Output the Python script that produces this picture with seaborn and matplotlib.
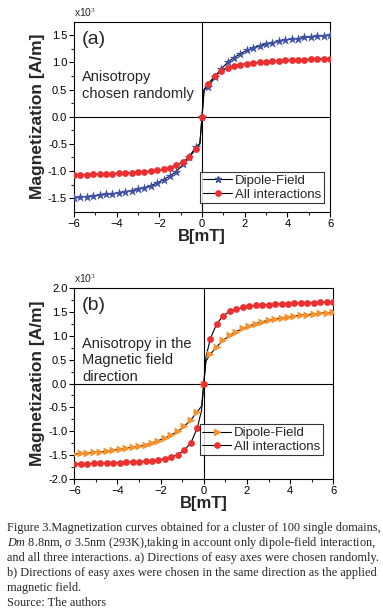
import numpy as np
import pandas as pd
import seaborn as sb
import matplotlib.pyplot as plt
from matplotlib.lines import Line2D

# field values (mT), one marker every 0.3 mT
field = [-6.0, -5.7, -5.4, -5.1, -4.8, -4.5, -4.2, -3.9, -3.6, -3.3, -3.0,
         -2.7, -2.4, -2.1, -1.8, -1.5, -1.2, -0.9, -0.6, -0.3, 0.0,
         0.3, 0.6, 0.9, 1.2, 1.5, 1.8, 2.1, 2.4, 2.7, 3.0,
         3.3, 3.6, 3.9, 4.2, 4.5, 4.8, 5.1, 5.4, 5.7, 6.0]

# (a) anisotropy chosen randomly, x10^3 A/m
a_dipole = [-1.49, -1.48, -1.47, -1.46, -1.45, -1.43, -1.42, -1.40, -1.38, -1.36, -1.34,
            -1.31, -1.27, -1.22, -1.16, -1.09, -1.01, -0.88, -0.74, -0.56, 0.0,
            0.55, 0.74, 0.88, 1.00, 1.09, 1.16, 1.22, 1.27, 1.31, 1.34,
            1.36, 1.39, 1.41, 1.43, 1.44, 1.46, 1.47, 1.48, 1.49, 1.50]
a_all = [-1.08, -1.07, -1.07, -1.06, -1.06, -1.05, -1.05, -1.04, -1.04, -1.03, -1.02,
         -1.01, -1.00, -0.99, -0.97, -0.94, -0.89, -0.83, -0.75, -0.60, 0.0,
         0.61, 0.75, 0.84, 0.90, 0.94, 0.96, 0.98, 0.99, 1.00, 1.01,
         1.02, 1.03, 1.04, 1.04, 1.05, 1.05, 1.06, 1.06, 1.07, 1.07]

# (b) anisotropy along the field
b_dipole = [-1.47, -1.46, -1.45, -1.44, -1.43, -1.41, -1.39, -1.37, -1.35, -1.33, -1.31,
            -1.28, -1.24, -1.19, -1.14, -1.07, -1.00, -0.89, -0.76, -0.59, 0.0,
            0.61, 0.77, 0.90, 1.01, 1.08, 1.15, 1.20, 1.25, 1.29, 1.32,
            1.35, 1.37, 1.39, 1.41, 1.43, 1.44, 1.45, 1.47, 1.48, 1.49]
b_all = [-1.68, -1.68, -1.68, -1.67, -1.67, -1.66, -1.66, -1.65, -1.64, -1.64, -1.63,
         -1.62, -1.61, -1.59, -1.57, -1.53, -1.49, -1.39, -1.24, -0.93, 0.0,
         0.93, 1.25, 1.41, 1.51, 1.55, 1.59, 1.61, 1.63, 1.64, 1.64,
         1.66, 1.66, 1.67, 1.68, 1.68, 1.69, 1.69, 1.70, 1.70, 1.70]

# extra points of the black connecting curves close to B = 0
near_zero = [-0.1, 0.1]
a_dipole_nz = [-0.50, 0.50]
a_all_nz = [-0.50, 0.50]
b_dipole_nz = [-0.47, 0.47]
b_all_nz = [-0.55, 0.55]

blue = '#3f51a6'
red = '#ee2f2f'
orange = '#f7922f'

caption = [
    "Figure 3.Magnetization curves obtained for a cluster of 100 single domains,",
    r"$\mathit{Dm}$ 8.8nm, $\mathit{\sigma}$ 3.5nm (293K),taking in account only dipole-field interaction,",
    "and all three interactions. a) Directions of easy axes were chosen randomly.",
    "b) Directions of easy axes were chosen in the same direction as the applied",
    "magnetic field.",
    "Source: The authors",
]

sb.set_style('ticks')
plt.rcParams['font.family'] = ['Liberation Sans', 'DejaVu Sans']
plt.rcParams['mathtext.fontset'] = 'custom'
plt.rcParams['mathtext.rm'] = 'Liberation Serif'
plt.rcParams['mathtext.it'] = 'Liberation Serif:italic'

W, H = 383, 615
fig = plt.figure(figsize=(W / 100, H / 100), dpi=100)


def panel(box, y1, y2, y1_nz, y2_nz, c1, m1, s1, ylim, yticks, tag, note, leg_box):
    ax = fig.add_axes(box)
    for y, ynz in ((y1, y1_nz), (y2, y2_nz)):
        line = pd.DataFrame({'x': field + near_zero, 'y': y + ynz})
        sb.lineplot(data=line, x='x', y='y', color='black', lw=0.8, ax=ax)
    pts = pd.DataFrame({'x': field, 'y': y1})
    sb.scatterplot(data=pts, x='x', y='y', color=c1, marker=m1, s=s1,
                   linewidth=0, ax=ax, zorder=3)
    pts = pd.DataFrame({'x': field, 'y': y2})
    sb.scatterplot(data=pts, x='x', y='y', color=red, marker='o', s=24,
                   linewidth=0, ax=ax, zorder=3)
    ax.axhline(0, color='black', lw=0.8, zorder=1)
    ax.axvline(0, color='black', lw=0.8, zorder=1)
    ax.set_xlim(-6, 6)
    ax.set_ylim(*ylim)
    ax.set_xticks([-6, -4, -2, 0, 2, 4, 6])
    ax.set_xticks([-5, -3, -1, 1, 3, 5], minor=True)
    ax.set_yticks(yticks)
    ax.set_yticklabels([f'{t:.1f}' for t in yticks])
    ax.set_yticks(np.arange(yticks[0] + 0.25, yticks[-1], 0.5), minor=True)
    ax.tick_params(axis='both', which='major', length=3.5, width=0.8,
                   labelsize=8, colors='black', pad=1.5)
    ax.tick_params(axis='both', which='minor', length=2, width=0.8)
    for sp in ax.spines.values():
        sp.set_linewidth(0.8)
        sp.set_color('black')
    ax.set_xlabel('B[mT]', fontsize=12, fontweight='bold', labelpad=0)
    ax.set_ylabel('Magnetization [A/m]', fontsize=12.5, fontweight='bold', labelpad=2)
    ax.text(0.0, 1.015, r'x10$^3$', transform=ax.transAxes, fontsize=7.5,
            ha='left', va='bottom')
    ax.text(0.03, 0.95, tag, transform=ax.transAxes, fontsize=14,
            ha='left', va='top')
    ax.text(0.03, 0.745, note, transform=ax.transAxes, fontsize=10.5,
            ha='left', va='top', linespacing=1.25)
    handles = [
        Line2D([], [], color='black', lw=0.8, marker=m1, ms=5,
               markerfacecolor=c1, markeredgecolor=c1),
        Line2D([], [], color='black', lw=0.8, marker='o', ms=3.8,
               markerfacecolor=red, markeredgecolor=red),
    ]
    leg = ax.legend(handles, ['Dipole-Field', 'All interactions'], loc='lower right',
                    bbox_to_anchor=leg_box, borderaxespad=0, fontsize=9.5,
                    frameon=True, fancybox=False, handlelength=2.2,
                    handletextpad=0.2, borderpad=0.2, labelspacing=0.1)
    leg.get_frame().set_edgecolor('black')
    leg.get_frame().set_linewidth(0.8)
    return ax


panel([74 / W, 1 - 211.7 / H, 256 / W, 190 / H], a_dipole, a_all, a_dipole_nz, a_all_nz,
      blue, '*', 55, (-1.75, 1.75), [-1.5, -1.0, -0.5, 0.0, 0.5, 1.0, 1.5],
      '(a)', 'Anisotropy\nchosen randomly', (0.975, 0.045))
panel([74.3 / W, 1 - 479.3 / H, 259 / W, 191.6 / H], b_dipole, b_all, b_dipole_nz, b_all_nz,
      orange, '>', 32, (-2.0, 2.0), [-2.0, -1.5, -1.0, -0.5, 0.0, 0.5, 1.0, 1.5, 2.0],
      '(b)', 'Anisotropy in the\nMagnetic field\ndirection', (0.96, 0.125))

for i, line in enumerate(caption):
    fig.text(7 / W, 1 - (530.5 + 15.2 * i) / H, line, fontsize=8.8,
             family='Liberation Serif', ha='left', va='baseline')

fig.savefig('out.png', dpi=100)
